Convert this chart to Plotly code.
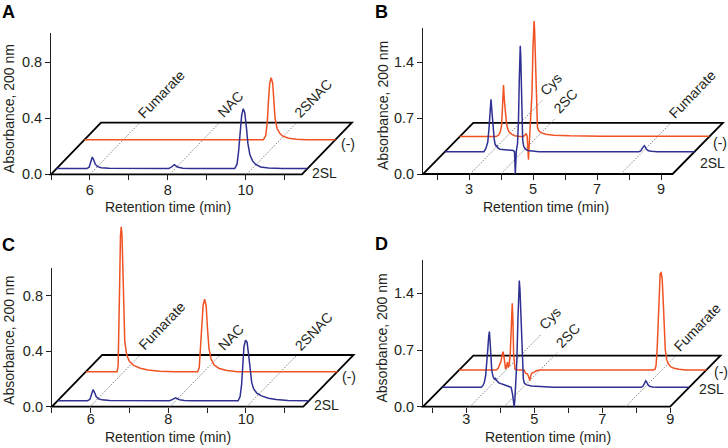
import plotly.graph_objects as go

# ---------------- data (retention time in min, absorbance above each trace baseline) ----------------
# Panel A
A_2SL = [(5.0, 0), (5.78, 0), (5.84, 0.01), (5.88, 0.05), (5.92, 0.083), (5.96, 0.06), (6.00, 0.03),
         (6.06, 0.014), (6.15, 0.006), (6.35, 0.002), (7.88, 0), (7.95, 0.01), (8.00, 0.025), (8.03, 0.028),
         (8.07, 0.02), (8.13, 0.009), (8.25, 0.003), (8.45, 0), (9.58, 0), (9.64, 0.03), (9.68, 0.12),
         (9.72, 0.26), (9.76, 0.38), (9.80, 0.428), (9.84, 0.40), (9.88, 0.30), (9.92, 0.18), (9.97, 0.10),
         (10.04, 0.055), (10.12, 0.03), (10.25, 0.012), (10.45, 0.004), (10.8, 0), (11.45, 0)]
A_NEG = [(5.0, 0), (9.60, 0), (9.66, 0.03), (9.70, 0.13), (9.73, 0.28), (9.76, 0.40), (9.80, 0.443),
         (9.84, 0.40), (9.87, 0.27), (9.90, 0.15), (9.95, 0.08), (10.02, 0.045), (10.10, 0.025),
         (10.25, 0.01), (10.45, 0.003), (10.7, 0), (11.45, 0)]
A_XTICKS = [5, 6, 7, 8, 9, 10, 11]
A_XLABELS = ['', '6', '', '8', '', '10', '']
A_YTICKS = [0, 0.4, 0.8]
A_YLABELS = ['0.0', '0.4', '0.8']
A_MARKS = ['Fumarate', 'NAC', '2SNAC']
A_MARK_T = [6.0, 8.05, 10.03]

# Panel B
B_2SL = [(1.56, 0), (2.78, 0), (2.84, 0.04), (2.90, 0.12), (2.94, 0.30), (2.97, 0.55), (3.00, 0.655),
         (3.02, 0.55), (3.04, 0.42), (3.055, 0.437), (3.075, 0.30), (3.10, 0.16), (3.13, 0.09), (3.16, 0.07),
         (3.18, 0.075), (3.21, 0.05), (3.28, 0.03), (3.45, 0.025), (3.60, 0.02), (3.70, 0.015), (3.735, 0.0),
         (3.75, -0.12), (3.76, -0.279), (3.775, -0.15), (3.79, 0.0), (3.83, 0.1), (3.86, 0.4), (3.885, 0.9),
         (3.905, 1.25), (3.915, 1.325), (3.93, 1.2), (3.95, 0.75), (3.97, 0.35), (3.99, 0.15), (4.02, 0.07),
         (4.07, 0.035), (4.15, 0.015), (4.30, 0.005), (4.50, 0), (7.62, 0), (7.68, 0.01), (7.73, 0.045),
         (7.77, 0.072), (7.79, 0.075), (7.82, 0.06), (7.86, 0.03), (7.92, 0.012), (8.02, 0.004), (8.20, 0),
         (9.36, 0)]
B_NEG = [(1.56, 0), (2.70, 0), (2.78, 0.02), (2.83, 0.06), (2.87, 0.14), (2.90, 0.33), (2.93, 0.646),
         (2.955, 0.46), (2.975, 0.34), (2.995, 0.35), (3.015, 0.2), (3.05, 0.11), (3.10, 0.06), (3.18, 0.03),
         (3.28, 0.012), (3.40, 0.004), (3.55, 0), (3.60, 0.02), (3.64, 0.04), (3.67, 0.0), (3.69, -0.18),
         (3.71, -0.29), (3.73, -0.12), (3.76, 0.1), (3.79, 0.27), (3.82, 0.55), (3.85, 1.1), (3.875, 1.42),
         (3.885, 1.446), (3.90, 1.35), (3.925, 1.0), (3.95, 0.6), (3.97, 0.25), (3.99, 0.12), (4.03, 0.075),
         (4.10, 0.05), (4.25, 0.03), (4.5, 0.018), (5.0, 0.01), (6.0, 0.005), (9.36, 0.005)]
B_XTICKS = [2, 3, 4, 5, 6, 7, 8, 9]
B_XLABELS = ['', '3', '', '5', '', '7', '', '9']
B_YTICKS = [0, 0.7, 1.4]
B_YLABELS = ['0.0', '0.7', '1.4']
B_MARKS = ['Cys', '2SC', 'Fumarate']
B_MARK_T = [3.03, 3.99, 7.74]

# Panel C
C_2SL = [(5.0, 0), (5.77, 0), (5.83, 0.01), (5.87, 0.05), (5.91, 0.079), (5.95, 0.058), (5.99, 0.03),
         (6.05, 0.014), (6.14, 0.006), (6.34, 0.002), (7.88, 0), (7.95, 0.008), (8.00, 0.018), (8.04, 0.02),
         (8.08, 0.015), (8.14, 0.007), (8.26, 0.002), (8.46, 0), (9.65, 0), (9.70, 0.03), (9.74, 0.12),
         (9.77, 0.27), (9.80, 0.39), (9.84, 0.435), (9.88, 0.42), (9.92, 0.33), (9.96, 0.21), (10.0, 0.13),
         (10.05, 0.085), (10.13, 0.055), (10.25, 0.035), (10.43, 0.018), (10.63, 0.008), (10.93, 0.002),
         (11.48, 0)]
C_NEG = [(5.0, 0), (5.80, 0), (5.83, 0.04), (5.85, 0.25), (5.87, 0.65), (5.89, 0.98), (5.91, 1.043),
         (5.93, 0.98), (5.95, 0.70), (5.97, 0.42), (6.00, 0.22), (6.05, 0.12), (6.12, 0.075), (6.23, 0.045),
         (6.40, 0.025), (6.60, 0.012), (6.90, 0.004), (7.30, 0), (7.88, 0), (7.92, 0.03), (7.95, 0.15),
         (7.98, 0.33), (8.02, 0.48), (8.06, 0.521), (8.10, 0.47), (8.13, 0.32), (8.17, 0.17), (8.22, 0.095),
         (8.30, 0.05), (8.42, 0.025), (8.60, 0.01), (8.90, 0), (11.48, 0)]
C_XTICKS = [5, 6, 7, 8, 9, 10, 11]
C_XLABELS = ['', '6', '', '8', '', '10', '']
C_YTICKS = [0, 0.4, 0.8]
C_YLABELS = ['0.0', '0.4', '0.8']
C_MARKS = ['Fumarate', 'NAC', '2SNAC']
C_MARK_T = [5.98, 8.04, 10.02]

# Panel D
D_2SL = [(1.73, 0), (2.88, 0), (2.93, 0.02), (2.97, 0.06), (3.01, 0.14), (3.04, 0.27), (3.07, 0.45),
         (3.10, 0.63), (3.12, 0.687), (3.14, 0.57), (3.16, 0.38), (3.19, 0.21), (3.23, 0.13), (3.27, 0.10),
         (3.30, 0.11), (3.34, 0.08), (3.40, 0.055), (3.50, 0.04), (3.60, 0.03), (3.70, 0.015), (3.76, 0.0),
         (3.80, -0.08), (3.83, -0.2), (3.85, -0.239), (3.87, -0.15), (3.90, 0.05), (3.93, 0.35), (3.96, 0.85),
         (3.98, 1.2), (4.00, 1.317), (4.02, 1.2), (4.05, 0.83), (4.07, 0.45), (4.09, 0.21), (4.12, 0.1),
         (4.15, 0.05), (4.22, 0.03), (4.36, 0.016), (4.6, 0.008), (5.0, 0), (7.58, 0), (7.63, 0.01),
         (7.67, 0.04), (7.70, 0.072), (7.72, 0.08), (7.745, 0.068), (7.78, 0.035), (7.83, 0.012),
         (7.92, 0.003), (8.05, 0), (9.0, 0)]
D_NEG = [(1.73, 0), (2.82, 0), (2.875, 0.02), (2.955, 0.103), (3.00, 0.2), (3.02, 0.226), (3.04, 0.18),
         (3.06, 0.12), (3.095, 0.01), (3.12, 0.04), (3.15, 0.1), (3.17, 0.03), (3.20, 0.06), (3.23, 0.2),
         (3.26, 0.6), (3.29, 0.824), (3.31, 0.6), (3.33, 0.2), (3.37, 0.01), (3.45, 0), (3.64, 0),
         (3.68, -0.04), (3.74, -0.05), (3.78, -0.09), (3.81, -0.13), (3.83, -0.08), (3.86, -0.04),
         (3.92, -0.03), (4.0, -0.01), (4.1, 0), (7.44, 0), (7.49, 0.01), (7.52, 0.06), (7.55, 0.25),
         (7.58, 0.65), (7.61, 1.05), (7.64, 1.19), (7.67, 1.2), (7.70, 1.12), (7.73, 0.85), (7.76, 0.48),
         (7.79, 0.25), (7.83, 0.13), (7.88, 0.075), (7.95, 0.04), (8.05, 0.02), (8.2, 0.008), (8.4, 0),
         (9.0, 0)]
D_XTICKS = [2, 3, 4, 5, 6, 7, 8, 9]
D_XLABELS = ['', '3', '', '5', '', '7', '', '9']
D_YTICKS = [0, 0.7, 1.4]
D_YLABELS = ['0.0', '0.7', '1.4']
D_MARKS = ['Cys', '2SC', 'Fumarate']
D_MARK_T = [3.11, 4.11, 7.69]

TRACE_NAMES = ['2SL', '(-)']
PANEL_LETTERS = ['A', 'B', 'C', 'D']
X_TITLE = 'Retention time (min)'
Y_TITLE = 'Absorbance, 200 nm'

# ---------------- layout / style ----------------
W, H = 728, 448
FONT = 'Liberation Sans, Arial, Helvetica, sans-serif'
TXT = '#231F20'
RED = '#F05223'
BLUE = '#2E3092'
FS = 14
TFS = 14.5

panels = [
    dict(blue=A_2SL, red=A_NEG, xt=A_XTICKS, xl=A_XLABELS, yt=A_YTICKS, yl=A_YLABELS,
         marks=A_MARKS, mark_t=A_MARK_T, mark_k=[1, 1, 1],
         x0=5.0, xe=11.45, XL=51.0, sx=38.9, Y0=174.3, sy=140.0, ytop=1.01, DX=1.285, DY=0.369,
         fB=0.11, fR=0.67, top=0, right=360, letter=(8.5, 12.3), xtitle=(168.3, 206.7), ytitle=(9.2, 109),
         neg_sh=(3.3, -4.4), sl_sh=(3.0, -4.5), standoff=-3),
    dict(blue=B_2SL, red=B_NEG, xt=B_XTICKS, xl=B_XLABELS, yt=B_YTICKS, yl=B_YLABELS,
         marks=B_MARKS, mark_t=B_MARK_T, mark_k=[1.44, 1.09, 1],
         x0=1.56, xe=9.36, XL=423.0, sx=32.0, Y0=174.0, sy=80.0, ytop=1.82, DX=1.57, DY=0.64,
         fB=0.436, fR=0.73, top=0, right=728, letter=(381.5, 11.7), xtitle=(545.5, 207.5), ytitle=(382.3, 105.8),
         neg_sh=(2.0, -6.8), sl_sh=(3.0, -11.0), standoff=-3),
    dict(blue=C_2SL, red=C_NEG, xt=C_XTICKS, xl=C_XLABELS, yt=C_YTICKS, yl=C_YLABELS,
         marks=C_MARKS, mark_t=C_MARK_T, mark_k=[1, 1, 1],
         x0=5.0, xe=11.48, XL=51.9, sx=38.8, Y0=406.7, sy=139.0, ytop=1.0, DX=1.296, DY=0.372,
         fB=0.116, fR=0.677, top=224, right=360, letter=(8.5, 245), xtitle=(168.3, 437.3), ytitle=(9.2, 340.7),
         neg_sh=(3.0, -5.0), sl_sh=(3.0, -4.5), standoff=-6),
    dict(blue=D_2SL, red=D_NEG, xt=D_XTICKS, xl=D_XLABELS, yt=D_YTICKS, yl=D_YLABELS,
         marks=D_MARKS, mark_t=D_MARK_T, mark_k=[1.42, 1.06, 1],
         x0=1.73, xe=9.0, XL=423.0, sx=34.0, Y0=406.7, sy=81.0, ytop=1.81, DX=1.48, DY=0.63,
         fB=0.38, fR=0.72, top=224, right=728, letter=(381.5, 244), xtitle=(548.3, 437.3), ytitle=(382.3, 338.2),
         neg_sh=(5.5, -2.5), sl_sh=(8.0, -1.5), standoff=-6),
]

fig = go.Figure()
layout = dict(template='none', width=W, height=H, margin=dict(l=0, r=0, t=0, b=0, autoexpand=False),
              paper_bgcolor='white', plot_bgcolor='rgba(0,0,0,0)', showlegend=False,
              font=dict(family=FONT, size=FS, color=TXT))
shapes, annotations = [], []


def axname(k):
    return ('xaxis' if k == 1 else f'xaxis{k}'), ('yaxis' if k == 1 else f'yaxis{k}'), \
           ('x' if k == 1 else f'x{k}'), ('y' if k == 1 else f'y{k}')


for i, p in enumerate(panels):
    x0, xe, DX, DY = p['x0'], p['xe'], p['DX'], p['DY']
    # ---- frame subplot: exactly the axes box, carries ticks and tick labels ----
    fxa, fya, fx, fy = axname(2 * i + 1)
    fl, fr = p['XL'], p['XL'] + (xe - x0) * p['sx']
    ft, fb = p['Y0'] - p['ytop'] * p['sy'], p['Y0']
    tickfont = dict(family=FONT, size=TFS, color=TXT)
    layout[fxa] = dict(domain=[fl / W, fr / W], range=[x0, xe], anchor=fy, showline=False, automargin=False,
                       showgrid=False, zeroline=False, ticks='outside', ticklen=5, tickwidth=1,
                       tickcolor=TXT, tickvals=p['xt'], ticktext=p['xl'], tickfont=tickfont, fixedrange=True,
                       ticklabelstandoff=p['standoff'])
    layout[fya] = dict(domain=[1 - fb / H, 1 - ft / H], range=[0, p['ytop']], anchor=fx, showline=True,
                       automargin=False, linecolor=TXT, linewidth=1, showgrid=False, zeroline=False,
                       ticks='outside', ticklen=5, tickwidth=1, tickcolor=TXT, tickvals=p['yt'],
                       ticktext=p['yl'], tickfont=tickfont, fixedrange=True)
    fig.add_trace(go.Scatter(x=[x0], y=[0], mode='markers', marker=dict(opacity=0, size=1),
                             xaxis=fx, yaxis=fy, hoverinfo='skip', showlegend=False))

    # ---- data subplot: larger box with the same scale, hidden axes ----
    dxa, dya, dx, dy = axname(2 * i + 2)
    left_px, right_px = p['XL'] - 8, p['right']
    top_px, bottom_px = p['top'], p['Y0'] + 10
    xr = [x0 - (p['XL'] - left_px) / p['sx'], x0 + (right_px - p['XL']) / p['sx']]
    yr = [-(bottom_px - p['Y0']) / p['sy'], (p['Y0'] - top_px) / p['sy']]
    layout[dxa] = dict(domain=[left_px / W, right_px / W], range=xr, anchor=dy, visible=False,
                       automargin=False, fixedrange=True)
    layout[dya] = dict(domain=[1 - bottom_px / H, 1 - top_px / H], range=yr, anchor=dx, visible=False,
                       automargin=False, fixedrange=True)

    # floor parallelogram (front edge doubles as the x axis line)
    shapes.append(dict(type='path', xref=dx, yref=dy, layer='below',
                       path=f'M {x0},0 L {xe},0 L {xe + DX},{DY} L {x0 + DX},{DY} Z',
                       line=dict(color='black', width=1.8)))
    # compound guide lines and labels
    for name, t, k in zip(p['marks'], p['mark_t'], p['mark_k']):
        shapes.append(dict(type='line', xref=dx, yref=dy, layer='below',
                           x0=t, y0=0, x1=t + k * DX, y1=k * DY,
                           line=dict(color='#666666', width=0.8, dash='1.5px,1.5px')))
        annotations.append(dict(xref=dx, yref=dy, x=t + k * DX, y=k * DY, text=name,
                                showarrow=False, textangle=-46, xanchor='left', yanchor='bottom',
                                xshift=-8, yshift=-1, font=dict(family=FONT, size=FS, color=TXT)))
    # traces: (-) behind, 2SL in front
    for data, f, color, lab, sh in [(p['red'], p['fR'], RED, TRACE_NAMES[1], p['neg_sh']),
                                    (p['blue'], p['fB'], BLUE, TRACE_NAMES[0], p['sl_sh'])]:
        t = [d[0] for d in data]
        a = [d[1] for d in data]
        fig.add_trace(go.Scatter(x=[v + f * DX for v in t], y=[v + f * DY for v in a], mode='lines',
                                 line=dict(color=color, width=1.5), xaxis=dx, yaxis=dy,
                                 hoverinfo='skip', name=lab))
        annotations.append(dict(xref=dx, yref=dy, x=xe + f * DX, y=f * DY, text=lab,
                                showarrow=False, xanchor='left', yanchor='middle',
                                xshift=sh[0], yshift=sh[1], font=dict(family=FONT, size=FS, color=TXT)))
    # panel letter and axis titles
    annotations.append(dict(xref='paper', yref='paper', x=p['letter'][0] / W, y=1 - p['letter'][1] / H,
                            text=f'<b>{PANEL_LETTERS[i]}</b>', showarrow=False, xanchor='center',
                            yanchor='middle', font=dict(family=FONT, size=18, color='black')))
    annotations.append(dict(xref='paper', yref='paper', x=p['xtitle'][0] / W, y=1 - p['xtitle'][1] / H,
                            text=X_TITLE, showarrow=False, xanchor='center', yanchor='middle',
                            font=dict(family=FONT, size=FS, color=TXT)))
    annotations.append(dict(xref='paper', yref='paper', x=p['ytitle'][0] / W, y=1 - p['ytitle'][1] / H,
                            text=Y_TITLE, showarrow=False, xanchor='center', yanchor='middle',
                            textangle=-90, font=dict(family=FONT, size=FS, color=TXT)))

layout['shapes'] = shapes
layout['annotations'] = annotations
fig.update_layout(**layout)
# the page's default 8px body margin would shift the figure; remove it so the 728x448 figure fills the window
fig.write_html('out.html', config={'displayModeBar': False, 'staticPlot': True},
               post_script="document.body.style.margin='0';document.body.style.overflow='hidden';")
